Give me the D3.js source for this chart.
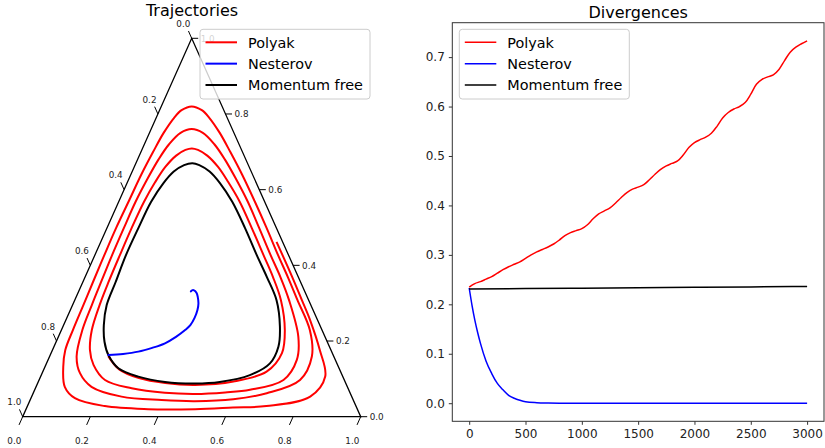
<!DOCTYPE html>
<html><head><meta charset="utf-8">
<script src="https://cdn.jsdelivr.net/npm/d3@7"></script>
<style>body{margin:0;background:#fff;}svg{display:block;font-family:"DejaVu Sans",sans-serif;}</style>
</head><body><svg id="chart" width="825" height="448"></svg>
<script>
// ---------- data ----------
const seriesNames = ["Polyak", "Nesterov", "Momentum free"];
const ternaryTickValues = [0, 0.2, 0.4, 0.6, 0.8, 1.0];
const divXTicks = [0, 500, 1000, 1500, 2000, 2500, 3000];
const divYTicks = [0, 0.1, 0.2, 0.3, 0.4, 0.5, 0.6, 0.7];

// ternary points as [bottom, right]; left = 1 - bottom - right
const polyakTraj = [[0.173,0.160],[0.223,0.125],[0.293,0.102],[0.377,0.089],[0.468,0.084],[0.577,0.093],[0.662,0.119],[0.683,0.168],[0.661,0.229],[0.610,0.308],[0.556,0.369],[0.499,0.427],[0.428,0.499],[0.358,0.568],[0.298,0.620],[0.248,0.660],[0.201,0.690],[0.166,0.705],[0.146,0.709],[0.129,0.705],[0.109,0.690],[0.092,0.660],[0.082,0.620],[0.075,0.568],[0.073,0.499],[0.074,0.427],[0.076,0.356],[0.080,0.295],[0.090,0.229],[0.111,0.176],[0.141,0.137],[0.195,0.097],[0.285,0.075],[0.389,0.063],[0.480,0.060],[0.567,0.064],[0.637,0.071],[0.723,0.097],[0.736,0.150],[0.710,0.211],[0.634,0.308],[0.578,0.369],[0.520,0.427],[0.450,0.499],[0.382,0.568],[0.315,0.630],[0.258,0.680],[0.207,0.720],[0.158,0.750],[0.120,0.760],[0.092,0.750],[0.073,0.720],[0.062,0.680],[0.055,0.630],[0.050,0.568],[0.050,0.499],[0.051,0.427],[0.054,0.356],[0.057,0.295],[0.062,0.229],[0.080,0.159],[0.112,0.115],[0.164,0.079],[0.266,0.053],[0.389,0.044],[0.489,0.041],[0.600,0.046],[0.691,0.062],[0.772,0.097],[0.776,0.159],[0.735,0.229],[0.659,0.308],[0.600,0.369],[0.542,0.427],[0.472,0.499],[0.403,0.568],[0.329,0.640],[0.264,0.700],[0.208,0.750],[0.157,0.790],[0.125,0.810],[0.090,0.820],[0.065,0.810],[0.053,0.790],[0.042,0.750],[0.036,0.700],[0.031,0.640],[0.029,0.568],[0.027,0.499],[0.028,0.427],[0.030,0.356],[0.032,0.295],[0.034,0.229],[0.038,0.176],[0.054,0.132],[0.085,0.079],[0.130,0.049],[0.229,0.028],[0.361,0.020],[0.500,0.020],[0.610,0.024],[0.707,0.028],[0.824,0.053],[0.842,0.106],[0.791,0.176],[0.722,0.256],[0.672,0.308],[0.613,0.369],[0.520,0.462]];
const nesterovTraj = [[0.172,0.163],[0.214,0.166],[0.256,0.172],[0.292,0.182],[0.324,0.194],[0.348,0.211],[0.366,0.229],[0.375,0.242],[0.378,0.261],[0.376,0.282],[0.370,0.300],[0.360,0.316],[0.351,0.327],[0.340,0.334],[0.334,0.334],[0.332,0.331]];
const freeTraj = [[0.172,0.163],[0.219,0.128],[0.289,0.106],[0.375,0.092],[0.466,0.088],[0.537,0.092],[0.617,0.110],[0.661,0.141],[0.664,0.185],[0.642,0.238],[0.597,0.308],[0.538,0.369],[0.479,0.427],[0.408,0.499],[0.336,0.568],[0.274,0.618],[0.229,0.648],[0.190,0.665],[0.167,0.670],[0.145,0.665],[0.123,0.648],[0.108,0.618],[0.096,0.568],[0.093,0.499],[0.092,0.427],[0.097,0.356],[0.101,0.295],[0.119,0.242],[0.143,0.198]];

// divergences
const polyakSteps = [0,50,100,150,200,250,300,350,400,450,500,550,600,650,700,750,800,850,900,950,1000,1050,1100,1150,1200,1250,1300,1350,1400,1450,1500,1550,1600,1650,1700,1750,1800,1850,1900,1950,2000,2050,2100,2150,2200,2250,2300,2350,2400,2450,2500,2550,2600,2650,2700,2750,2800,2850,2900,2950,3000];
const polyakDiv = [0.235,0.242,0.246,0.251,0.256,0.263,0.270,0.276,0.281,0.286,0.293,0.300,0.306,0.311,0.316,0.322,0.330,0.339,0.345,0.349,0.353,0.361,0.373,0.383,0.389,0.395,0.405,0.416,0.426,0.433,0.437,0.442,0.452,0.463,0.473,0.480,0.485,0.490,0.502,0.517,0.527,0.533,0.538,0.546,0.560,0.577,0.588,0.595,0.600,0.608,0.625,0.645,0.655,0.660,0.664,0.675,0.693,0.710,0.720,0.727,0.733];
const nesterovSteps = [0,25,50,75,100,150,200,250,300,350,400,450,500,600,700,800,1000,1500,2000,2500,3000];
const nesterovDiv = [0.233,0.198,0.168,0.143,0.121,0.085,0.060,0.040,0.027,0.016,0.010,0.006,0.003,0.001,0.0003,0,0,0,0,0,0];
const freeSteps = [0,500,1000,1500,2000,2500,3000];
const freeDiv = [0.231,0.2318,0.2327,0.2335,0.2343,0.2352,0.236];

// ---------- styles ----------
const colors = {"Polyak":"#ff0000","Nesterov":"#0000ff","Momentum free":"#000000"};

const svg = d3.select("#chart");

// ================= LEFT: ternary =================
const tu = d3.scaleLinear().domain([0,1]).range([22.7, 360.7]);
const tv = d3.scaleLinear().domain([0,1]).range([416.7, 38.3]);
const P = d => [tu(d[0] + d[1]/2), tv(d[1])];

const gL = svg.append("g");
const verts = [[0,0],[1,0],[0,1]].map(P);
gL.append("path").attr("d", "M" + verts.map(p=>p.join(",")).join("L") + "Z")
  .attr("fill","none").attr("stroke","#000").attr("stroke-width",1.3);

const tickFmt = d3.format(".1f");
const BL = P([0,0]), BR = P([1,0]), TOP = P([0,1]);
function unit(a,b){const dx=b[0]-a[0],dy=b[1]-a[1],l=Math.hypot(dx,dy);return [dx/l,dy/l];}
const dLeftEdgeDown = unit(TOP, BL);
const dRightEdgeUp = unit(BR, TOP);
const tfs = "8.8px";

// bottom axis
ternaryTickValues.forEach(t => {
  const p = P([t,0]);
  gL.append("line").attr("x1",p[0]).attr("y1",p[1])
    .attr("x2",p[0]+dLeftEdgeDown[0]*9).attr("y2",p[1]+dLeftEdgeDown[1]*9)
    .attr("stroke","#000").attr("stroke-width",1);
  gL.append("text").attr("x",p[0]-8.4).attr("y",p[1]+27.2)
    .attr("text-anchor","middle").attr("font-size",tfs).attr("fill","#222").text(tickFmt(t));
});
// right axis
ternaryTickValues.forEach(t => {
  const p = P([1-t,t]);
  gL.append("line").attr("x1",p[0]).attr("y1",p[1]).attr("x2",p[0]+6.5).attr("y2",p[1])
    .attr("stroke","#000").attr("stroke-width",1);
  gL.append("text").attr("x",p[0]+9).attr("y",p[1]+3.2)
    .attr("font-size",tfs).attr("fill","#222").text(tickFmt(t));
});
// left axis
ternaryTickValues.forEach(t => {
  const p = P([0,1-t]);
  gL.append("line").attr("x1",p[0]).attr("y1",p[1])
    .attr("x2",p[0]+dRightEdgeUp[0]*8).attr("y2",p[1]+dRightEdgeUp[1]*8)
    .attr("stroke","#000").attr("stroke-width",1);
  gL.append("text").attr("x",p[0]-8.4).attr("y",p[1]-11.4)
    .attr("text-anchor","middle").attr("font-size",tfs).attr("fill","#222").text(tickFmt(t));
});

const lineT = d3.line().x(d=>P(d)[0]).y(d=>P(d)[1]).curve(d3.curveCatmullRom.alpha(0.5));
const lineTClosed = d3.line().x(d=>P(d)[0]).y(d=>P(d)[1]).curve(d3.curveCatmullRomClosed.alpha(0.5));

gL.append("path").attr("d", lineT(polyakTraj)).attr("fill","none")
  .attr("stroke",colors["Polyak"]).attr("stroke-width",2).attr("stroke-linejoin","round");
gL.append("path").attr("d", lineTClosed(freeTraj)).attr("fill","none")
  .attr("stroke",colors["Momentum free"]).attr("stroke-width",2);
gL.append("path").attr("d", lineT(nesterovTraj)).attr("fill","none")
  .attr("stroke",colors["Nesterov"]).attr("stroke-width",2).attr("stroke-linecap","round");

gL.append("text").attr("x",192).attr("y",15.5).attr("text-anchor","middle")
  .attr("font-size","16px").attr("fill","#000").text("Trajectories");

function legend(g, x0, y0, w, h, lw){
  g.append("rect").attr("x",x0).attr("y",y0).attr("width",w).attr("height",h)
    .attr("rx",3).attr("fill","rgba(255,255,255,0.8)").attr("stroke","#cccccc").attr("stroke-width",1);
  seriesNames.forEach((n,i)=>{
    const yy = y0 + 13 + i*21.35;
    g.append("line").attr("x1",x0+5.5).attr("x2",x0+37).attr("y1",yy).attr("y2",yy)
      .attr("stroke",colors[n]).attr("stroke-width",lw);
    g.append("text").attr("x",x0+48).attr("y",yy+5.2).attr("font-size","14.4px").attr("fill","#000").text(n);
  });
}
legend(gL, 200, 29.3, 170, 69.7, 2);

// ================= RIGHT: divergences =================
const x = d3.scaleLinear().domain([-150, 3150]).range([452.3, 824]);
const y = d3.scaleLinear().domain([-0.0366, 0.7696]).range([421.3, 22.7]);
const gR = svg.append("g");

const zip = (a,b)=>a.map((v,i)=>[v,b[i]]);
const lineSmooth = d3.line().x(d=>x(d[0])).y(d=>y(d[1])).curve(d3.curveCatmullRom.alpha(0.5));
const lineMono = d3.line().x(d=>x(d[0])).y(d=>y(d[1])).curve(d3.curveMonotoneX);
gR.append("path").attr("d", lineSmooth(zip(polyakSteps,polyakDiv))).attr("fill","none")
  .attr("stroke",colors["Polyak"]).attr("stroke-width",1.5);
gR.append("path").attr("d", lineMono(zip(nesterovSteps,nesterovDiv))).attr("fill","none")
  .attr("stroke",colors["Nesterov"]).attr("stroke-width",1.5);
gR.append("path").attr("d", lineMono(zip(freeSteps,freeDiv))).attr("fill","none")
  .attr("stroke",colors["Momentum free"]).attr("stroke-width",1.5);

gR.append("rect").attr("x",452.3).attr("y",22.7).attr("width",824-452.3).attr("height",421.3-22.7)
  .attr("fill","none").attr("stroke","#333").attr("stroke-width",1);

const ax = gR.append("g").attr("transform","translate(0,421.3)")
  .call(d3.axisBottom(x).tickValues(divXTicks).tickFormat(d3.format("d")).tickSize(3.5).tickPadding(4.5));
const ay = gR.append("g").attr("transform","translate(452.3,0)")
  .call(d3.axisLeft(y).tickValues(divYTicks).tickFormat(d3.format(".1f")).tickSize(3.5).tickPadding(4));
[ax,ay].forEach(a=>{
  a.select(".domain").remove();
  a.selectAll("line").attr("stroke","#333");
  a.selectAll("text").attr("font-size","12px").attr("fill","#222").attr("font-family","DejaVu Sans, sans-serif");
});

gR.append("text").attr("x",638.2).attr("y",17.5).attr("text-anchor","middle")
  .attr("font-size","16px").attr("fill","#000").text("Divergences");

legend(gR, 459.3, 29.3, 170, 69.7, 1.5);
</script></body></html>
